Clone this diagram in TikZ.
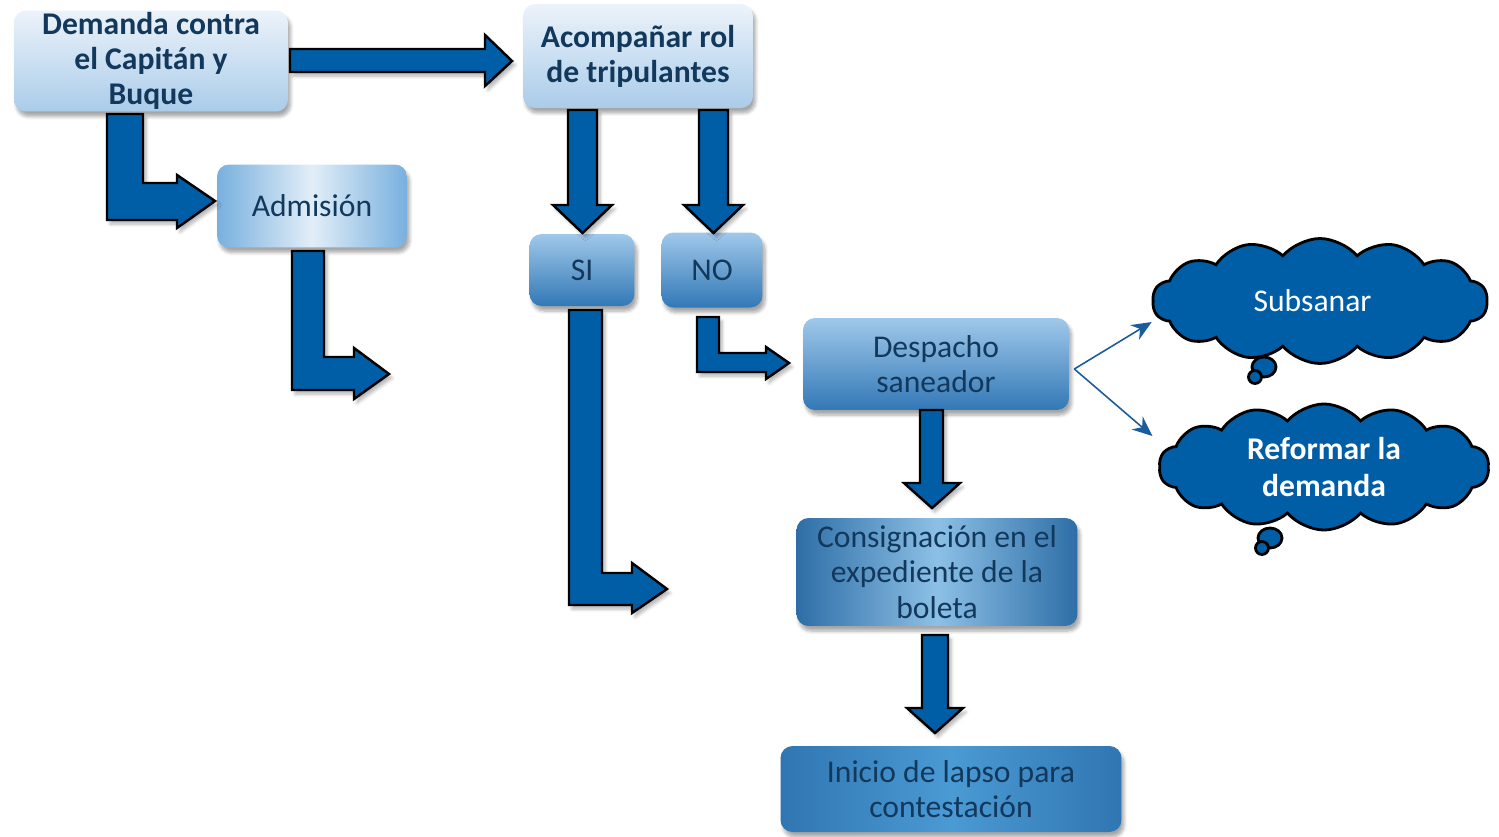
\documentclass[tikz,border=0pt]{standalone}
\usepackage{fontspec}
\setmainfont{Carlito}
\usetikzlibrary{calc,shapes.symbols,shadows.blur,arrows.meta}

\definecolor{arrowblue}{RGB}{0,94,166}
\definecolor{navytxt}{RGB}{18,56,92}
\definecolor{thinblue}{RGB}{26,92,156}
\definecolor{paletop}{RGB}{236,243,250}
\definecolor{palebot}{RGB}{170,204,234}
\definecolor{midtop}{RGB}{160,200,234}
\definecolor{midbot}{RGB}{50,120,182}
\definecolor{admedge}{RGB}{120,176,222}
\definecolor{admmid}{RGB}{226,238,248}
\definecolor{consedge}{RGB}{46,110,166}
\definecolor{consmid}{RGB}{140,192,230}
\definecolor{iniedge}{RGB}{48,118,178}
\definecolor{inimid}{RGB}{74,154,212}

\tikzset{
    box/.style = {rounded corners = 0.24cm, align = center, text = navytxt, inner sep = 1pt,
        font = \fontsize{18}{20}\selectfont,
        blur shadow = {shadow xshift = 0.05cm, shadow yshift = -0.1cm, shadow blur steps = 6, shadow opacity = 35}},
    palebox/.style = {box, top color = paletop, bottom color = palebot,
        font = \bfseries\fontsize{18}{20}\selectfont},
    midbox/.style = {box, top color = midtop, bottom color = midbot},
    sidebox/.style 2 args = {box, left color = #1, right color = #1, middle color = #2},
    blockarrow/.style = {fill = arrowblue, draw = black, line width = 1.4pt, line join = miter,
        blur shadow = {shadow xshift = 0.06cm, shadow yshift = -0.08cm, shadow blur steps = 5, shadow opacity = 30}},
    cloudbox/.style = {cloud, cloud puffs = 14, cloud puff arc = 100, aspect = 2.7, fill = arrowblue, draw = black,
        line width = 1.6pt, text = white, align = center, font = \fontsize{18}{20}\selectfont},
    cloudtail/.style = {fill = arrowblue, draw = black, line width = 1.6pt},
    thin/.style = {draw = thinblue, line width = 0.9pt, -{Stealth[length = 0.4cm, width = 0.34cm]}}
}

\begin{document}
\begin{tikzpicture}[x = 0.02cm, y = -0.02cm]
    \useasboundingbox (0, 0) rectangle (1499, 836);

    %%%%%%%%%% boxes %%%%%%%%%%%%%%%%%%%
    \node [palebox, minimum width = 5.48cm, minimum height = 1.92cm] (dem) at (151, 61) {Demanda contra\\el Capitán y\\Buque};
    \node [palebox, minimum width = 4.6cm, minimum height = 2.08cm] (acomp) at (638, 56) {Acompañar rol\\de tripulantes};
    \node [sidebox = {admedge}{admmid}, minimum width = 3.8cm, minimum height = 1.66cm] (adm) at (312, 206) {Admisión};
    \node [midbox, minimum width = 2.1cm, minimum height = 1.44cm] (si) at (582, 270) {SI};
    \node [midbox, minimum width = 2.02cm, minimum height = 1.5cm] (no) at (712, 270) {NO};
    \node [midbox, minimum width = 5.32cm, minimum height = 1.84cm] (desp) at (936, 364) {Despacho\\saneador};
    \node [sidebox = {consedge}{consmid}, minimum width = 5.62cm, minimum height = 2.16cm] (cons) at (937, 572) {Consignación en el\\expediente de la\\boleta};
    \node [sidebox = {iniedge}{inimid}, minimum width = 6.82cm, minimum height = 1.72cm] (ini) at (951, 789) {Inicio de lapso para\\contestación};

    %%%%%%%%%% clouds %%%%%%%%%%%%%%%%%%%
    \node [cloudbox, minimum width = 6.7cm, minimum height = 2.5cm] (subs) at (1320, 301) {Subsanar\hspace{0.3cm}};
    \draw [cloudtail] (1264, 367) ellipse (0.24cm and 0.2cm);
    \draw [cloudtail] (1255, 377) circle (0.13cm);
    \node [cloudbox, minimum width = 6.6cm, minimum height = 2.5cm, font = \bfseries\fontsize{18}{21}\selectfont] (refo) at (1324, 467) {Reformar la\hspace{0.3cm}\\demanda\hspace{0.3cm}};
    \draw [cloudtail] (1270, 538) ellipse (0.24cm and 0.2cm);
    \draw [cloudtail] (1262, 548) circle (0.13cm);

    %%%%%%%%%% block arrows %%%%%%%%%%%%%%%%%%%
    % demanda -> acompanar
    \draw [blockarrow] (290, 49) -- (485, 49) -- (485, 35) -- (512, 61) -- (485, 86) -- (485, 72) -- (290, 72) -- cycle;
    % demanda -> admision
    \draw [blockarrow] (107, 114) -- (143, 114) -- (143, 183) -- (177, 183) -- (177, 175) -- (215, 201) -- (177, 228) -- (177, 220) -- (107, 220) -- cycle;
    % admision -> (nothing)
    \draw [blockarrow] (292, 251) -- (324, 251) -- (324, 357) -- (354, 357) -- (354, 348) -- (389, 374) -- (354, 399) -- (354, 390) -- (292, 390) -- cycle;
    % acompanar -> si / no
    \foreach \x in {568, 699} {
        \draw [blockarrow] (\x, 110) -- (\x + 29, 110) -- (\x + 29, 205) -- (\x + 44, 205) -- (\x + 14.5, 233) -- (\x - 15, 205) -- (\x, 205) -- cycle;
    }
    % si -> (nothing)
    \draw [blockarrow] (569, 310) -- (602, 310) -- (602, 573) -- (632, 573) -- (632, 563) -- (667, 589) -- (632, 613) -- (632, 605) -- (569, 605) -- cycle;
    % no -> despacho
    \draw [blockarrow] (697, 317) -- (719, 317) -- (719, 353) -- (766, 353) -- (766, 347) -- (789, 363) -- (766, 379) -- (766, 372) -- (697, 372) -- cycle;
    % despacho -> consignacion
    \draw [blockarrow] (920, 410) -- (943, 410) -- (943, 483) -- (960, 483) -- (932, 508) -- (904, 483) -- (920, 483) -- cycle;
    % consignacion -> inicio
    \draw [blockarrow] (922, 635) -- (948, 635) -- (948, 708) -- (963, 708) -- (935, 733) -- (907, 708) -- (922, 708) -- cycle;

    %%%%%%%%%% thin arrows %%%%%%%%%%%%%%%%%%%
    \coordinate (fork) at ($(desp.east) + (5, 5)$);
    \coordinate (subsin) at ($(subs.west) + (0, 21)$);
    \coordinate (refoin) at ($(refo.west) + (-6, -31)$);
    \draw [thin] (fork) -- (subsin);
    \draw [thin] (fork) -- (refoin);
\end{tikzpicture}
\end{document}
